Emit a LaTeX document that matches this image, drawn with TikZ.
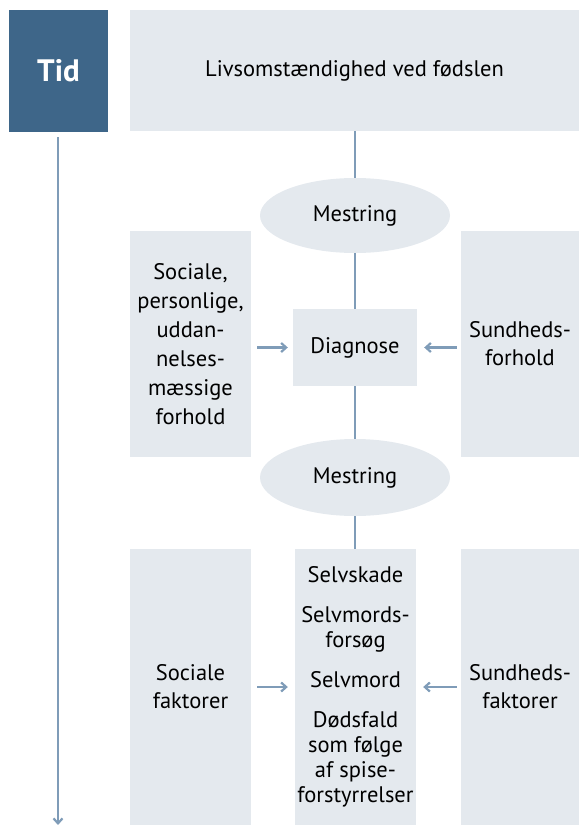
\documentclass[tikz,border=0pt]{standalone}
\usepackage{fontspec}
\setmainfont{PT Sans}
\usetikzlibrary{shapes.geometric,arrows.meta}
\definecolor{boxfill}{HTML}{E4E9EE}
\definecolor{tidblue}{HTML}{3E6689}
\definecolor{linec}{HTML}{7F9CB8}
\tikzset{
  box/.style={rectangle, fill=boxfill, inner sep=0pt, align=center, font=\fontsize{22.5}{28}\selectfont},
  ell/.style={ellipse, fill=boxfill, inner sep=0pt, font=\fontsize{22.5}{28}\selectfont},
  conn/.style={draw=linec, line width=2.4pt},
  arr/.style={draw=linec, line width=2.2pt, -{Straight Barb[length=5pt,width=9pt]}},
}
\begin{document}
\begin{tikzpicture}[x=1pt,y=-1pt]
\useasboundingbox (0,0) rectangle (579,825);
\node[box, fill=tidblue, text=white, font=\fontsize{31}{36}\selectfont\bfseries, minimum width=99pt, minimum height=122pt] (tid) at (58.5,71) {Tid};
\node[box, minimum width=449pt, minimum height=121pt] (top) at (354.5,70.5) {Livsomstændighed ved fødslen};
\node[ell, minimum width=190pt, minimum height=75pt] (m1) at (355,215.5) {Mestring};
\node[box, minimum width=124pt, minimum height=77pt] (diag) at (355,347.5) {Diagnose};
\node[box, font=\fontsize{22.5}{29}\selectfont, minimum width=121pt, minimum height=226pt] (left1) at (190.5,344) {Sociale,\\personlige,\\uddan-\\nelses-\\mæssige\\forhold};
\node[box, minimum width=118pt, minimum height=226pt] (right1) at (520,344) {Sundheds-\\forhold};
\node[ell, minimum width=190pt, minimum height=77pt] (m2) at (355,477.5) {Mestring};
\node[box, font=\fontsize{22.5}{25}\selectfont, minimum width=121pt, minimum height=276pt] (center2) at (355.5,687) {Selvskade\\[15pt]Selvmords-\\forsøg\\[15pt]Selvmord\\[15pt]Dødsfald\\som følge\\af spise-\\forstyrrelser};
\node[box, minimum width=121pt, minimum height=276pt] (left2) at (190.5,687) {Sociale\\faktorer};
\node[box, minimum width=118pt, minimum height=276pt] (right2) at (520,687) {Sundheds-\\faktorer};
\coordinate (tend) at (58,825);
\draw[conn] (top.south -| m1.north) -- (m1.north);
\draw[conn] (m1.south) -- (diag.north -| m1.south);
\draw[conn] (diag.south -| m2.north) -- (m2.north);
\draw[conn] (m2.south) -- (center2.north -| m2.south);
\draw[arr, shorten <=6pt, shorten >=5pt] (left1.east |- diag.west) -- (diag.west);
\draw[arr, shorten <=4pt, shorten >=7pt] (right1.west |- diag.east) -- (diag.east);
\draw[arr, shorten <=6pt, shorten >=7pt] (left2.east |- center2.west) -- (center2.west);
\draw[arr, shorten <=4pt, shorten >=7pt] (right2.west |- center2.east) -- (center2.east);
\draw[arr, shorten <=5pt] (tid.south -| tend) -- (tend);
\end{tikzpicture}
\end{document}
